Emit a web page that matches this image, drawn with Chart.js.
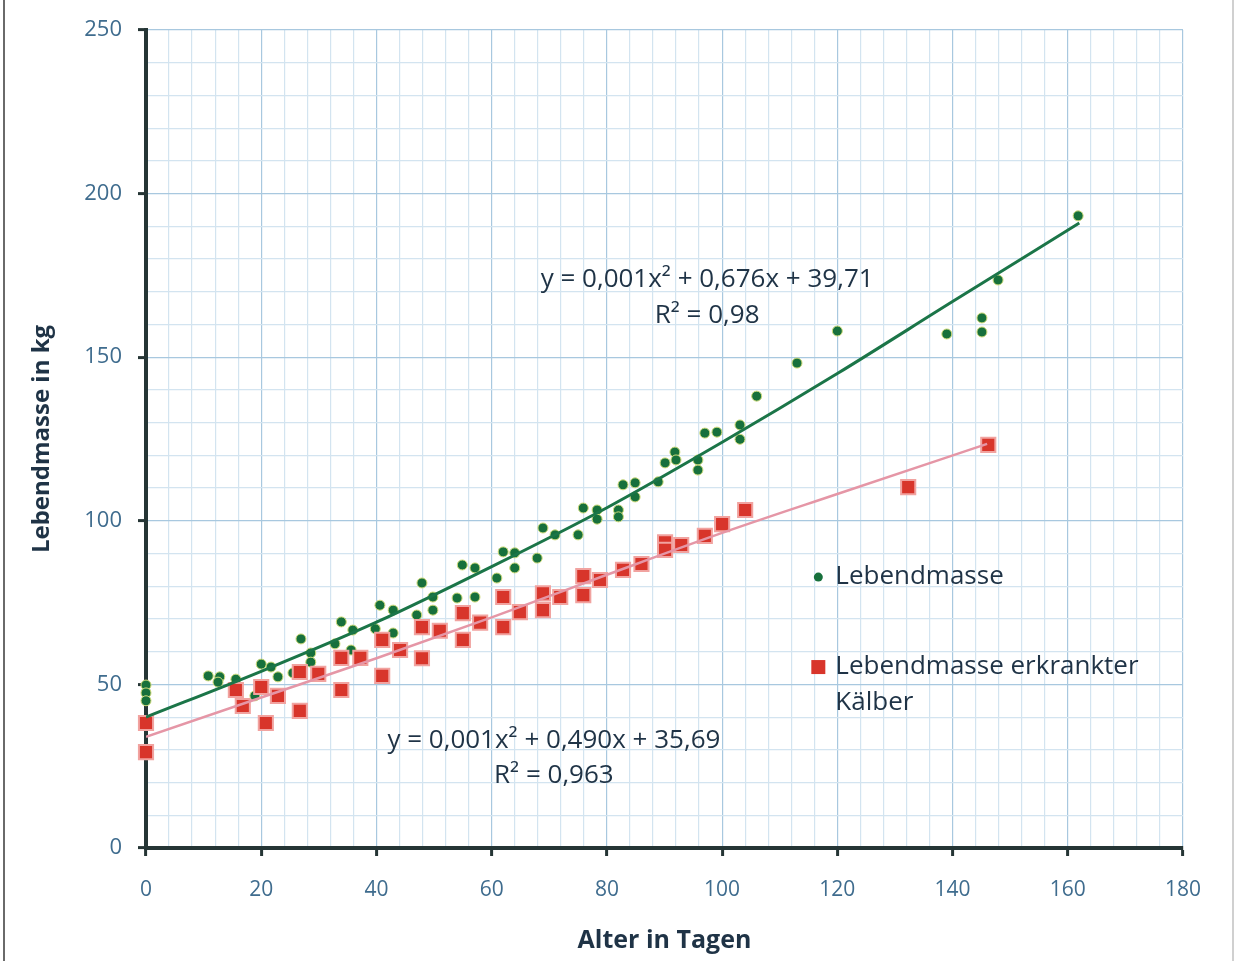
<!DOCTYPE html>
<html>
<head>
<meta charset="utf-8">
<script src="https://cdn.jsdelivr.net/npm/chart.js@4.4.0/dist/chart.umd.min.js"></script>
<style>
  html, body { margin: 0; padding: 0; background: #fff; }
  canvas { display: block; }
</style>
</head>
<body>
<canvas id="chart" width="1238" height="961"></canvas>
<script>
// Lebendmasse (gesund): Alter in Tagen / kg
const ageHealthy = [0, 0, 0, 10.8, 12.8, 12.5, 15.6, 18.9, 20, 21.7, 22.9, 25.5, 26.9, 28.6, 28.6, 32.8, 33.9, 35.9, 35.6, 40.6,
  39.8, 42.9, 42.9, 47.9, 49.8, 49.8, 47, 54.9, 57.1, 54, 57.1, 60.9, 62, 64, 64, 67.9, 68.9, 71, 75, 75.9,
  78.3, 78.3, 82, 82, 82.8, 84.9, 84.9, 88.9, 90.1, 91.8, 92, 95.8, 95.8, 97, 99.1, 103.1, 103.1, 106, 113, 120,
  139, 145.1, 145.1, 147.9, 161.8];
const massHealthy = [49.8, 47.4, 45, 52.6, 52.3, 50.7, 51.6, 46.5, 56.2, 55.3, 52.3, 53.5, 63.9, 59.6, 56.8, 62.4, 69.1, 66.6, 60.5, 74.2,
  67, 72.7, 65.7, 81, 76.7, 72.7, 71.2, 86.5, 85.6, 76.4, 76.7, 82.5, 90.5, 90.2, 85.6, 88.6, 97.8, 95.7, 95.7, 103.9,
  103.3, 100.5, 103.3, 101.2, 111, 111.6, 107.3, 111.9, 117.7, 121, 118.6, 118.6, 115.5, 126.8, 127.1, 129.3, 124.9, 138.1, 148.2, 158,
  157.1, 162, 157.7, 173.6, 193.2];

// Lebendmasse erkrankter Kälber
const ageSick = [0, 0, 15.6, 16.8, 20, 20.8, 22.9, 26.7, 26.7, 29.9, 33.9, 33.9, 37.2, 41, 41, 44.1, 47.9, 47.9, 51, 55,
  55, 58, 62, 62, 64.9, 68.9, 68.9, 71.9, 75.9, 75.9, 78.8, 82.8, 86, 90.1, 90.1, 92.9, 97, 100, 104, 132.3, 146.2];
const massSick = [38.2, 29.3, 48.3, 43.4, 49.2, 38.2, 46.5, 53.8, 41.9, 53.2, 58.1, 48.3, 58.1, 63.6, 52.6, 60.5, 67.5, 58, 66.4, 71.8,
  63.6, 68.9, 76.7, 67.5, 72.1, 77.8, 72.7, 76.7, 83.1, 77.3, 81.9, 85, 86.8, 93.4, 91.1, 92.6, 95.4, 99, 103.3, 110.3, 123.2];

// Trendlinien
const trendHealthyAge = [0, 20, 40, 60, 80, 100, 120, 140, 162];
const trendHealthyMass = [40, 54, 69, 86, 104, 124, 145, 167, 191];
const trendSickAge = [0, 20, 40, 60, 80, 100, 120, 146];
const trendSickMass = [34, 46, 58, 70.5, 83.5, 96.3, 108.2, 123.5];

const seriesNames = ['Lebendmasse', 'Lebendmasse erkrankter', 'Kälber'];
const eqHealthy = ['y = 0,001x² + 0,676x + 39,71', 'R² = 0,98'];
const eqSick = ['y = 0,001x² + 0,490x + 35,69', 'R² = 0,963'];

const pairs = (xs, ys) => xs.map((x, i) => ({ x, y: ys[i] }));

const GREEN = '#17703c';
const RED = '#d8352b';
const TEXT = '#1f3346';
const TICKTEXT = '#3f6c8e';
const FONT = 'Open Sans';

const notes = {
  id: 'notes',
  beforeDraw(chart) {
    const ctx = chart.ctx;
    ctx.save();
    ctx.fillStyle = '#fff';
    ctx.fillRect(0, 0, chart.width, chart.height);
    ctx.strokeStyle = '#6a6a6a';
    ctx.lineWidth = 2;
    ctx.beginPath();
    ctx.moveTo(4, 0); ctx.lineTo(4, chart.height);
    ctx.stroke();
    ctx.strokeStyle = '#d0d0d0';
    ctx.beginPath();
    ctx.moveTo(1233, 0); ctx.lineTo(1233, chart.height);
    ctx.stroke();
    ctx.restore();
  },
  afterDatasetsDraw(chart) {
    const { ctx, scales: { x, y } } = chart;
    ctx.save();
    ctx.fillStyle = TEXT;
    ctx.font = '26px "' + FONT + '"';
    ctx.textAlign = 'center';
    ctx.textBaseline = 'middle';
    ctx.fillText(eqHealthy[0], x.getPixelForValue(97.4), y.getPixelForValue(173.6));
    ctx.fillText(eqHealthy[1], x.getPixelForValue(97.4), y.getPixelForValue(162.6));
    ctx.fillText(eqSick[0], x.getPixelForValue(70.8), y.getPixelForValue(32.7));
    ctx.fillText(eqSick[1], x.getPixelForValue(70.8), y.getPixelForValue(22));

    // legend inside the plot
    const lx = x.getPixelForValue(116.7);
    ctx.textAlign = 'left';
    ctx.font = '26px "' + FONT + '"';
    ctx.fillStyle = GREEN;
    ctx.beginPath();
    ctx.arc(lx, y.getPixelForValue(82.8), 4.5, 0, Math.PI * 2);
    ctx.fill();
    ctx.fillStyle = RED;
    ctx.fillRect(lx - 7, y.getPixelForValue(55.3) - 7, 14, 14);
    ctx.fillStyle = TEXT;
    ctx.fillText(seriesNames[0], lx + 17, y.getPixelForValue(82.8));
    ctx.fillText(seriesNames[1], lx + 17, y.getPixelForValue(55.3));
    ctx.fillText(seriesNames[2], lx + 17, y.getPixelForValue(44.3));
    ctx.restore();
  }
};

new Chart(document.getElementById('chart'), {
  type: 'scatter',
  data: {
    datasets: [
      {
        type: 'line',
        data: pairs(trendSickAge, trendSickMass),
        borderColor: '#e596a6',
        borderWidth: 2.5,
        pointRadius: 0,
        tension: 0.4,
        cubicInterpolationMode: 'monotone',
        fill: false
      },
      {
        type: 'line',
        data: pairs(trendHealthyAge, trendHealthyMass),
        borderColor: '#1b7548',
        borderWidth: 3,
        pointRadius: 0,
        tension: 0.4,
        cubicInterpolationMode: 'monotone',
        fill: false
      },
      {
        label: 'Lebendmasse erkrankter Kälber',
        data: pairs(ageSick, massSick),
        pointStyle: 'rect',
        pointRadius: 10,
        backgroundColor: RED,
        borderColor: '#f1a3a0',
        borderWidth: 2,
        clip: false
      },
      {
        label: 'Lebendmasse',
        data: pairs(ageHealthy, massHealthy),
        pointStyle: 'circle',
        pointRadius: 5,
        backgroundColor: GREEN,
        borderColor: '#cfdc7a',
        borderWidth: 1,
        clip: false
      }
    ]
  },
  options: {
    responsive: false,
    animation: false,
    devicePixelRatio: 1,
    layout: { padding: { left: 0, right: 55, top: 30, bottom: 0 } },
    plugins: {
      legend: { display: false },
      tooltip: { enabled: false }
    },
    scales: {
      x: {
        type: 'linear',
        min: 0,
        max: 180,
        afterFit: s => { s.height = 113; },
        border: { display: true, color: '#253535', width: 4 },
        grid: {
          color: c => c.tick.value % 20 === 0 ? '#a8c8df' : '#d3e4f0',
          lineWidth: 1.2,
          drawTicks: true,
          tickLength: 8,
          tickColor: c => c.tick.value % 20 === 0 ? '#253535' : 'rgba(0,0,0,0)',
          tickWidth: 3
        },
        ticks: {
          stepSize: 4,
          autoSkip: false,
          maxRotation: 0,
          padding: 21,
          color: TICKTEXT,
          font: { family: FONT, size: 21 },
          callback: v => v % 20 === 0 ? String(v) : ''
        },
        title: {
          display: true,
          text: 'Alter in Tagen',
          color: TEXT,
          font: { family: FONT, size: 25, weight: 'bold' },
          padding: { top: 0, bottom: 5 }
        }
      },
      y: {
        type: 'linear',
        min: 0,
        max: 250,
        afterFit: s => { s.width = 146; },
        border: { display: true, color: '#253535', width: 4 },
        grid: {
          color: c => c.tick.value % 50 === 0 ? '#a8c8df' : '#d3e4f0',
          lineWidth: 1.2,
          drawTicks: true,
          tickLength: 8,
          tickColor: c => c.tick.value % 50 === 0 ? '#253535' : 'rgba(0,0,0,0)',
          tickWidth: 3
        },
        ticks: {
          stepSize: 10,
          autoSkip: false,
          padding: 16,
          color: TICKTEXT,
          font: { family: FONT, size: 22 },
          callback: v => v % 50 === 0 ? String(v) : ''
        },
        title: {
          display: true,
          text: 'Lebendmasse in kg',
          color: TEXT,
          font: { family: FONT, size: 24, weight: 'bold' },
          padding: { top: 28, bottom: 0 }
        }
      }
    }
  },
  plugins: [notes]
});
</script>
</body>
</html>
